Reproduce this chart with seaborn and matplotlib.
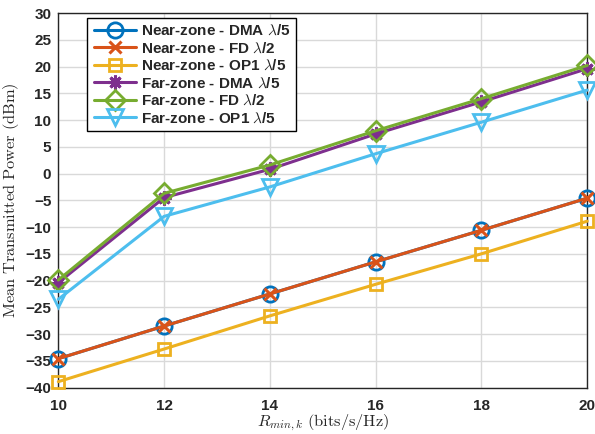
import numpy as np
import pandas as pd
import matplotlib
matplotlib.use("Agg")
import matplotlib.pyplot as plt
import seaborn as sns

rate = [10, 12, 14, 16, 18, 20]
near_dma = [-34.6, -28.5, -22.5, -16.5, -10.6, -4.6]
near_fd = [-34.6, -28.5, -22.5, -16.5, -10.6, -4.6]
near_op1 = [-38.9, -32.8, -26.6, -20.7, -15.0, -8.9]
far_dma = [-20.4, -4.5, 0.8, 7.4, 13.4, 19.6]
far_fd = [-19.9, -3.7, 1.6, 8.0, 14.0, 20.2]
far_op1 = [-23.5, -8.0, -2.5, 3.7, 9.6, 15.6]

labels = [r"Near-zone - DMA $\lambda$/5", r"Near-zone - FD $\lambda$/2",
          r"Near-zone - OP1 $\lambda$/5", r"Far-zone - DMA $\lambda$/5",
          r"Far-zone - FD $\lambda$/2", r"Far-zone - OP1 $\lambda$/5"]
series = [near_dma, near_fd, near_op1, far_dma, far_fd, far_op1]
colors = ["#0072BD", "#D95319", "#EDB120", "#7E2F8E", "#77AC30", "#4DBEEE"]
markers = ["o", "x", "s", (8, 2, 0), "D", "v"]
msizes = [11, 9, 9, 10, 10, 12]

sns.set_theme(style="whitegrid")
plt.rcParams["font.family"] = ["Liberation Sans", "DejaVu Sans"]
plt.rcParams["mathtext.fontset"] = "cm"

fig, ax = plt.subplots(figsize=(5.95, 4.34), dpi=100)
fig.subplots_adjust(left=0.098, right=0.987, top=0.97, bottom=0.107)

for ys, lab, c, m, ms in zip(series, labels, colors, markers, msizes):
    df = pd.DataFrame({"x": rate, "y": ys})
    mew = 2.2 if m in ("x",) or isinstance(m, tuple) else 2.0
    sns.lineplot(data=df, x="x", y="y", ax=ax, color=c, linewidth=2.2,
                 marker=m, markersize=ms, markerfacecolor="none",
                 markeredgecolor=c, markeredgewidth=mew, label=lab,
                 clip_on=False, zorder=3)

ax.set_xlim(10, 20)
ax.set_ylim(-40, 30)
ax.set_xticks(range(10, 21, 2))
ax.set_yticks(range(-40, 31, 5))
for t in ax.get_xticklabels() + ax.get_yticklabels():
    t.set_fontweight("bold")
    t.set_fontsize(11)
ax.tick_params(axis="both", length=4, color="#262626", direction="in", pad=5,
               labelcolor="#262626")
ax.tick_params(axis="x", pad=8)
ax.grid(True, color="#d9d9d9", linewidth=1.0)
for s in ax.spines.values():
    s.set_color("#262626")
    s.set_linewidth(1.0)
ax.set_facecolor("white")

ax.set_xlabel(r"$R_{min,k}\ \mathrm{(bits/s/Hz)}$", fontsize=11.8,
              color="#262626", labelpad=0)
ax.set_ylabel(r"$\mathrm{Mean\ Transmitted\ Power\ (dBm)}$", fontsize=11.8,
              color="#262626", labelpad=3)

leg = ax.legend(loc="upper left", bbox_to_anchor=(0.055, 0.988), frameon=True,
                fancybox=False, edgecolor="black", framealpha=1,
                prop={"weight": "bold", "size": 11}, handlelength=2.8,
                borderpad=0.4, labelspacing=0.2, handletextpad=0.3,
                borderaxespad=0.0)
leg.get_frame().set_linewidth(1.0)

fig.savefig("out.png", dpi=100)
